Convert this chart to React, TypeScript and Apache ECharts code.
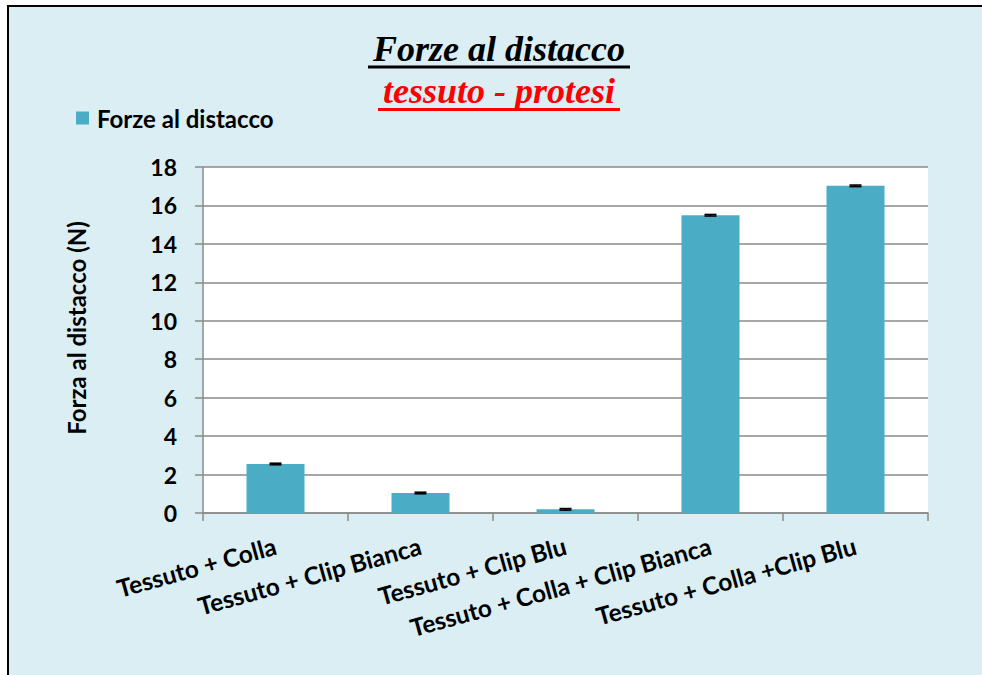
import React, { useEffect, useRef } from "react";
import * as echarts from "echarts";

const categories = [
  "Tessuto + Colla",
  "Tessuto + Clip Bianca",
  "Tessuto + Clip Blu",
  "Tessuto + Colla + Clip Bianca",
  "Tessuto + Colla +Clip Blu",
];
const seriesName = "Forze al distacco";
const values = [2.55, 1.04, 0.19, 15.49, 17.02];
const errors = [0.04, 0.04, 0.04, 0.04, 0.04];
const yMin = 0;
const yMax = 18;
const yInterval = 2;
const titleText = "Forze al distacco";
const subtitleText = "tessuto - protesi";
const yAxisName = "Forza al distacco (N)";

const LABEL_FONT = "Lato, 'Open Sans', sans-serif";
const GRAY = "#8a8a8a";

export default function App() {
  const ref = useRef<HTMLDivElement>(null);
  useEffect(() => {
    if (!ref.current) return;
    const chart = echarts.init(ref.current, undefined, { renderer: "svg" });
    const errData = categories.map((_, i) => [i, values[i] - errors[i], values[i] + errors[i]]);
    chart.setOption({
      animation: false,
      backgroundColor: "transparent",
      legend: {
        data: [seriesName],
        left: 76,
        top: 106,
        padding: 0,
        icon: "rect",
        itemWidth: 13,
        itemHeight: 13,
        itemGap: 8,
        textStyle: {
          fontFamily: LABEL_FONT,
          fontWeight: "bold",
          fontSize: 24,
          color: "#000",
          lineHeight: 22,
          padding: [0, 0, 0, 3],
        },
      },
      grid: {
        left: 203,
        right: 54,
        top: 167,
        bottom: 162,
        show: true,
        backgroundColor: "#ffffff",
        borderWidth: 0,
        containLabel: false,
      },
      xAxis: {
        type: "category",
        data: categories,
        axisLine: { show: true, lineStyle: { color: GRAY, width: 1.5 } },
        axisTick: { show: true, length: 8, alignWithLabel: false, lineStyle: { color: GRAY, width: 1.5 } },
        axisLabel: {
          interval: 0,
          rotate: 15.5,
          margin: 32,
          fontFamily: LABEL_FONT,
          fontWeight: "bold",
          fontSize: 24.5,
          color: "#000",
        },
      },
      yAxis: {
        type: "value",
        min: yMin,
        max: yMax,
        interval: yInterval,
        axisLine: { show: true, lineStyle: { color: GRAY, width: 1.5 } },
        axisTick: { show: true, length: 8, inside: false, lineStyle: { color: GRAY, width: 1.5 } },
        splitLine: { show: true, lineStyle: { color: GRAY, width: 1.5 } },
        axisLabel: {
          margin: 26,
          fontFamily: LABEL_FONT,
          fontWeight: "bold",
          fontSize: 23,
          color: "#000",
        },
      },
      series: [
        {
          name: seriesName,
          type: "bar",
          data: values,
          barWidth: 58,
          itemStyle: { color: "#4BACC6" },
        },
        {
          name: "err",
          type: "custom",
          data: errData,
          z: 10,
          renderItem: (params: any, api: any) => {
            const idx = api.value(0);
            const lo = api.coord([idx, api.value(1)]);
            const hi = api.coord([idx, api.value(2)]);
            const x = lo[0];
            const half = 6;
            const style = { stroke: "#000", lineWidth: 1.6 };
            return {
              type: "group",
              children: [
                { type: "line", shape: { x1: x, y1: lo[1], x2: x, y2: hi[1] }, style },
                { type: "line", shape: { x1: x - half, y1: lo[1], x2: x + half, y2: lo[1] }, style },
                { type: "line", shape: { x1: x - half, y1: hi[1], x2: x + half, y2: hi[1] }, style },
              ],
            };
          },
        },
      ],
      graphic: [
        {
          type: "text",
          x: 499,
          y: 49,
          style: {
            text: titleText,
            fill: "#000",
            font: "italic bold 36px 'Liberation Serif', 'Times New Roman', serif",
            align: "center",
            verticalAlign: "middle",
          },
        },
        {
          type: "line",
          shape: { x1: 368, y1: 67, x2: 630, y2: 67 },
          style: { stroke: "#000", lineWidth: 3 },
        },
        {
          type: "text",
          x: 499,
          y: 91,
          style: {
            text: subtitleText,
            fill: "#ff0000",
            font: "italic bold 36px 'Liberation Serif', 'Times New Roman', serif",
            align: "center",
            verticalAlign: "middle",
          },
        },
        {
          type: "line",
          shape: { x1: 378, y1: 109.5, x2: 620, y2: 109.5 },
          style: { stroke: "#ff0000", lineWidth: 3 },
        },
        {
          type: "text",
          x: 76,
          y: 328,
          rotation: Math.PI / 2,
          style: {
            text: yAxisName,
            fill: "#000",
            font: "bold 24px Lato, 'Open Sans', sans-serif",
            align: "center",
            verticalAlign: "middle",
          },
        },
      ],
    });
    return () => chart.dispose();
  }, []);

  return (
    <div
      style={{
        position: "fixed",
        left: 0,
        top: 0,
        width: 982,
        height: 675,
        background: "#ffffff",
        overflow: "hidden",
      }}
    >
      <div
        style={{
          position: "absolute",
          left: 7,
          top: 5,
          width: 1000,
          height: 700,
          background: "#DAEEF3",
          borderLeft: "2px solid #000",
          borderTop: "2px solid #000",
        }}
      />
      <div
        ref={ref}
        style={{ position: "absolute", left: 0, top: 0, width: 982, height: 675 }}
      />
    </div>
  );
}
